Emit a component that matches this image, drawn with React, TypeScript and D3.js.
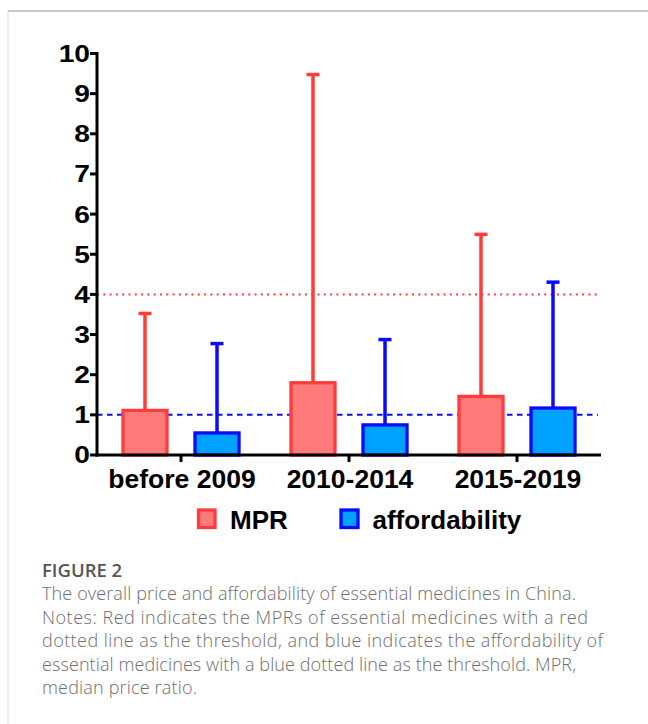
import React from "react";
import * as d3 from "d3";

const categories = ["before 2009", "2010-2014", "2015-2019"];
const seriesNames = ["MPR", "affordability"];
const mprValues = [1.11, 1.8, 1.46];
const mprErrorTop = [3.55, 9.5, 5.52];
const affValues = [0.55, 0.75, 1.17];
const affErrorTop = [2.8, 2.9, 4.33];
const yTicks = [0, 1, 2, 3, 4, 5, 6, 7, 8, 9, 10];
const mprThreshold = 4;
const affThreshold = 1;
const captionTitle = "FIGURE 2";
const captionLines = [
  "The overall price and affordability of essential medicines in China.",
  "Notes: Red indicates the MPRs of essential medicines with a red",
  "dotted line as the threshold, and blue indicates the affordability of",
  "essential medicines with a blue dotted line as the threshold. MPR,",
  "median price ratio.",
];
const captionLineWidths = [534, 546, 561, 534, 155];

const W = 648;
const H = 724;
const x0 = 97;
const x1 = 601;
const yTop = 53.5;
const yBase = 455;

const RED_STROKE = "#ff3b3b";
const RED_FILL = "#ff7b7b";
const BLUE_STROKE = "#0a0aff";
const BLUE_FILL = "#00a2ff";

export default function App() {
  const x = d3.scaleBand<string>().domain(categories).range([x0, x1]);
  const sub = d3
    .scaleBand<string>()
    .domain(seriesNames)
    .range([0, x.bandwidth()])
    .paddingInner(0.389)
    .paddingOuter(0.361);
  const y = d3.scaleLinear().domain([0, 10]).range([yBase, yTop]);
  const barW = sub.bandwidth();
  const chartFont = "'Liberation Sans', Arial, sans-serif";
  const capFont = "'Open Sans', Lato, sans-serif";

  const series = [
    { name: seriesNames[0], vals: mprValues, errs: mprErrorTop, stroke: RED_STROKE, fill: RED_FILL },
    { name: seriesNames[1], vals: affValues, errs: affErrorTop, stroke: BLUE_STROKE, fill: BLUE_FILL },
  ];

  return (
    <svg width={W} height={H} style={{ position: "absolute", left: 0, top: 0, background: "#fff" }}>
      {/* panel border */}
      <line x1={8} x2={W} y1={11} y2={11} stroke="#c8c8c8" strokeWidth={2} />
      <line x1={8} x2={8} y1={11} y2={H} stroke="#dcdcdc" strokeWidth={1} />

      {/* threshold lines */}
      <line x1={x0} x2={598} y1={y(mprThreshold)} y2={y(mprThreshold)} stroke={RED_STROKE} strokeWidth={2} strokeDasharray="2 4.3" />
      <line x1={x0} x2={598} y1={y(affThreshold)} y2={y(affThreshold)} stroke={BLUE_STROKE} strokeWidth={2} strokeDasharray="5.5 4.5" />

      {/* bars and error bars */}
      {series.map((s) =>
        categories.map((c, i) => {
          const bx = (x(c) as number) + (sub(s.name) as number);
          const cx = bx + barW / 2;
          return (
            <g key={s.name + c}>
              <line x1={cx} x2={cx} y1={y(s.vals[i])} y2={y(s.errs[i])} stroke={s.stroke} strokeWidth={3.5} />
              <line x1={cx - 6.5} x2={cx + 6.5} y1={y(s.errs[i]) + 1} y2={y(s.errs[i]) + 1} stroke={s.stroke} strokeWidth={3.5} />
              <rect x={bx} y={y(s.vals[i])} width={barW} height={yBase - y(s.vals[i])} fill={s.fill} stroke={s.stroke} strokeWidth={3.3} />
            </g>
          );
        })
      )}

      {/* y axis */}
      <line x1={x0} x2={x0} y1={yTop - 1.5} y2={yBase + 1.5} stroke="#000" strokeWidth={3} />
      {yTicks.map((t) => (
        <g key={t}>
          <line x1={x0 - 7} x2={x0} y1={y(t)} y2={y(t)} stroke="#000" strokeWidth={3} />
          <text
            transform={`translate(${x0 - 7},${y(t)}) scale(1.2,1)`}
            dy="0.36em"
            textAnchor="end"
            fontFamily={chartFont}
            fontWeight="bold"
            fontSize={23.5}
            fill="#000"
          >
            {t}
          </text>
        </g>
      ))}

      {/* x axis */}
      <line x1={x0 - 1.5} x2={x1} y1={yBase} y2={yBase} stroke="#000" strokeWidth={3} />
      {categories.map((c) => {
        const cx = (x(c) as number) + x.bandwidth() / 2;
        return (
          <g key={c}>
            <line x1={cx} x2={cx} y1={yBase} y2={yBase + 7} stroke="#000" strokeWidth={3} />
            <text x={cx + 1} y={488} textAnchor="middle" fontFamily={chartFont} fontWeight="bold" fontSize={26.5} fill="#000">
              {c}
            </text>
          </g>
        );
      })}

      {/* legend */}
      <rect x={198.5} y={510} width={16.5} height={17.5} fill={RED_FILL} stroke={RED_STROKE} strokeWidth={3.3} />
      <text x={230} y={528.5} fontFamily={chartFont} fontWeight="bold" fontSize={26} fill="#000">{seriesNames[0]}</text>
      <rect x={341} y={510} width={17} height={17.5} fill={BLUE_FILL} stroke={BLUE_STROKE} strokeWidth={3.3} />
      <text x={372.5} y={528.5} fontFamily={chartFont} fontWeight="bold" fontSize={26} fill="#000">{seriesNames[1]}</text>

      {/* caption */}
      <text x={42} y={577} fontFamily={capFont} fontWeight={600} fontSize={18.5} fill="#555">{captionTitle}</text>
      {captionLines.map((l, i) => (
        <text
          key={i}
          x={42}
          y={600 + i * 23.5}
          fontFamily={capFont}
          fontWeight={300}
          fontSize={18}
          fill="#6e6e6e"
          textLength={captionLineWidths[i]}
          lengthAdjust="spacing"
        >
          {l}
        </text>
      ))}
    </svg>
  );
}
